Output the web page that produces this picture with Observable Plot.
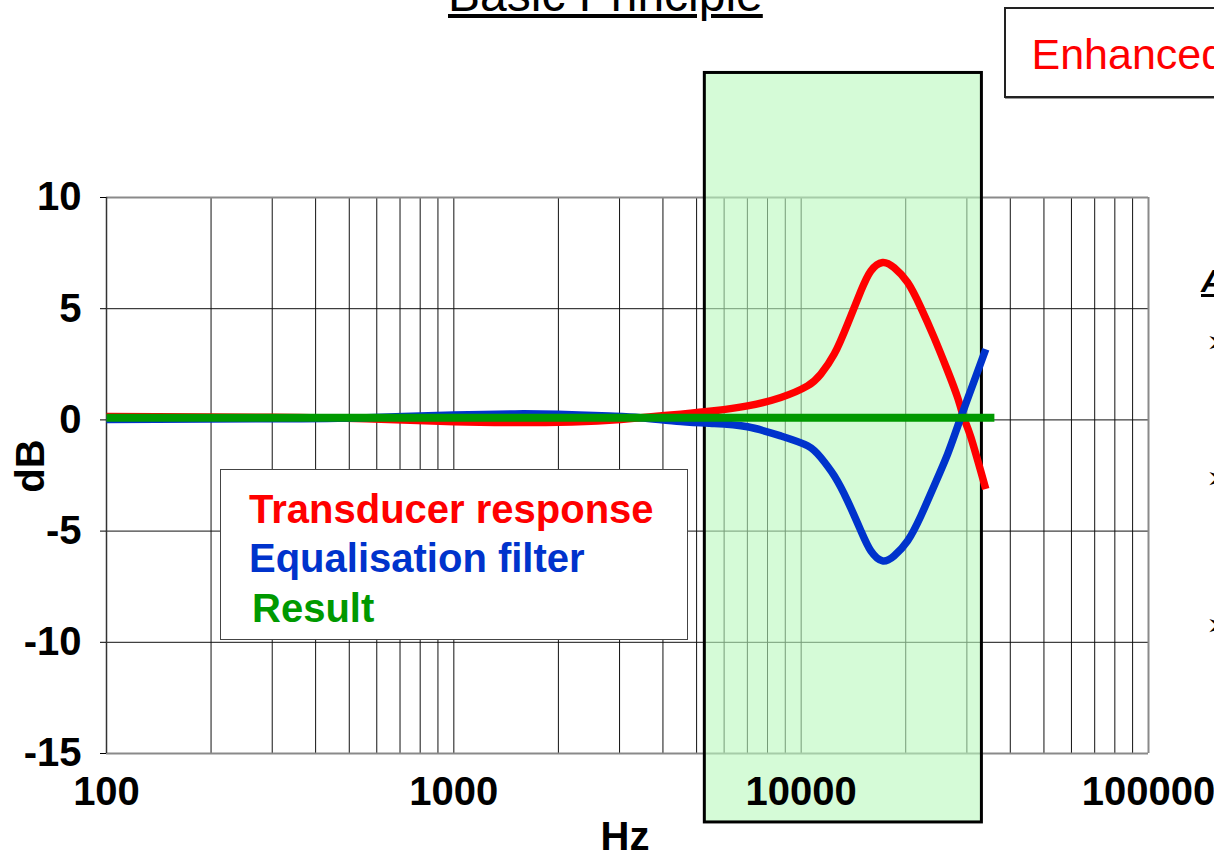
<!DOCTYPE html>
<html>
<head>
<meta charset="utf-8">
<script src="https://cdn.jsdelivr.net/npm/d3@7"></script>
<script src="https://cdn.jsdelivr.net/npm/@observablehq/plot@0.6"></script>
<style>
  html, body { margin: 0; padding: 0; background: #fff; overflow: hidden; }
  #wrap { position: relative; width: 1214px; height: 853px; overflow: hidden; font-family: "Liberation Sans", Arial, sans-serif; }
  #wrap svg { position: absolute; left: 0; top: 0; }
  .abs { position: absolute; white-space: nowrap; line-height: 1; }
</style>
</head>
<body>
<div id="wrap"></div>
<script>
// ---- data ----
const xMajor = [100, 1000, 10000, 100000];
const xMinor = [200, 300, 400, 500, 600, 700, 800, 900,
                2000, 3000, 4000, 5000, 6000, 7000, 8000, 9000,
                20000, 30000, 40000, 50000, 60000, 70000, 80000, 90000];
const yTicks = [-15, -10, -5, 0, 5, 10];

const redHz = [100, 300, 560, 1000, 1500, 2000, 2800, 3450, 4500, 5620, 7010, 8740, 10430, 11390, 12450, 13600, 14860, 15870, 17150, 18520, 20250, 22110, 24150, 26400, 28200, 29470, 30810, 34000];
const redDb = [0.15, 0.12, 0.05, -0.08, -0.12, -0.11, -0.02, 0.1, 0.26, 0.41, 0.63, 1.01, 1.53, 2.06, 2.96, 4.31, 5.8, 6.7, 7.08, 6.85, 6.18, 5.05, 3.7, 2.21, 1.01, 0.04, -0.79, -3.11];

const blueHz = [100, 300, 560, 1000, 1500, 2000, 2800, 3450, 4500, 5620, 7010, 8740, 10430, 11390, 12450, 13600, 14860, 15870, 17150, 18520, 20250, 22110, 24150, 26400, 28500, 31500, 34000];
const blueDb = [0.02, 0.05, 0.1, 0.22, 0.27, 0.25, 0.17, 0.1, -0.07, -0.16, -0.31, -0.72, -1.16, -1.69, -2.51, -3.64, -4.99, -5.89, -6.34, -6.11, -5.44, -4.32, -2.96, -1.54, -0.1, 1.76, 3.18];

const greenHz = [100, 36000];
const greenDb = [0.1, 0.1];

const bandHz = [5280, 33140];   // highlighted frequency band
const bandDb = [-18.1, 15.6];   // vertical extent of the band box

const legendLabels = ["Transducer response", "Equalisation filter", "Result"];
const legendColors = ["#ff0000", "#0033cc", "#009900"];

// ---- chart ----
const chart = Plot.plot({
  width: 1214,
  height: 853,
  marginLeft: 106,
  marginRight: 66,
  marginTop: 197,
  marginBottom: 100,
  style: { fontFamily: "'Liberation Sans', Arial, sans-serif", background: "transparent", overflow: "visible", color: "#000" },
  x: { type: "log", domain: [100, 100000] },
  y: { domain: [-15, 10] },
  marks: [
    Plot.ruleX(xMinor.concat(xMajor), { y1: -15, y2: 10, stroke: "#111", strokeWidth: 1 }),
    Plot.ruleY(yTicks, { x1: 100, x2: 100000, stroke: "#111", strokeWidth: 1 }),
    Plot.ruleY([10, -15], { x1: 100, x2: 100000, stroke: "#8a8a8a", strokeWidth: 2 }),
    Plot.ruleX([100000], { y1: -15, y2: 10, stroke: "#8a8a8a", strokeWidth: 2 }),
    Plot.ruleX([100], { y1: -15, y2: 10, stroke: "#333", strokeWidth: 1.5 }),
    Plot.rect([0], { x1: bandHz[0], x2: bandHz[1], y1: bandDb[0], y2: bandDb[1], fill: "#b9f9bd", fillOpacity: 0.6, stroke: "#000", strokeWidth: 3 }),
    Plot.axisX(xMajor, { tickSize: 0, tickPadding: 23, fontSize: 40, fontWeight: "bold", tickFormat: d => String(d), label: null }),
    Plot.axisY(yTicks, { tickSize: 6, tickPadding: 19, fontSize: 40, fontWeight: "bold", tickFormat: d => String(d), label: null }),
    Plot.line(redHz, { x: redHz, y: redDb, stroke: legendColors[0], strokeWidth: 7.5, curve: "natural", strokeLinecap: "butt" }),
    Plot.line(blueHz, { x: blueHz, y: blueDb, stroke: legendColors[1], strokeWidth: 7.5, curve: "natural", strokeLinecap: "butt" }),
    Plot.line(greenHz, { x: greenHz, y: greenDb, stroke: legendColors[2], strokeWidth: 8, strokeLinecap: "butt" })
  ]
});

const wrap = document.getElementById("wrap");
wrap.appendChild(chart);

function addText(txt, left, baseline, size, opts = {}) {
  const d = document.createElement("div");
  d.className = "abs";
  d.textContent = txt;
  d.style.left = left + "px";
  d.style.top = (baseline - 0.8465 * size) + "px";
  d.style.fontSize = size + "px";
  d.style.fontWeight = opts.bold ? "bold" : "normal";
  d.style.color = opts.color || "#000";
  if (opts.underline) d.style.textDecoration = "underline";
  if (opts.extra) Object.assign(d.style, opts.extra);
  wrap.appendChild(d);
  return d;
}

// title (cut at top of slide)
addText("Basic Principle", 448, 11.7, 48, { underline: true });

// Enhanced box (cut at right)
const eb = document.createElement("div");
eb.className = "abs";
Object.assign(eb.style, { left: "1004px", top: "7px", width: "320px", height: "87px", border: "2px solid #222", boxShadow: "1px 1px 0 #999", background: "#fff" });
wrap.appendChild(eb);
addText("Enhanced", 1031.5, 69.3, 43, { color: "#ff0000" });

// right side text fragments
addText("A", 1201, 292, 32, { bold: true, underline: true, extra: { fontStyle: "italic" } });
addText("➢", 1206, 352, 30, { extra: { fontFamily: "'DejaVu Sans', sans-serif" } });
addText("➢", 1206, 488, 30, { extra: { fontFamily: "'DejaVu Sans', sans-serif" } });
addText("➢", 1206, 635, 30, { extra: { fontFamily: "'DejaVu Sans', sans-serif" } });

// axis labels
addText("Hz", 525, 850, 40, { bold: true, extra: { width: "200px", textAlign: "center" } });
const db = document.createElement("div");
db.className = "abs";
db.textContent = "dB";
Object.assign(db.style, { left: "30px", top: "466px", fontSize: "40px", fontWeight: "bold", transform: "translate(-50%, -50%) rotate(-90deg)" });
wrap.appendChild(db);

// legend box
const lg = document.createElement("div");
lg.className = "abs";
Object.assign(lg.style, { left: "220px", top: "469px", width: "466px", height: "169px", border: "1px solid #444", background: "#fff" });
wrap.appendChild(lg);
const lgX = [249, 249, 252];
const lgBase = [523.3, 571.7, 621.7];
legendLabels.forEach((t, i) => addText(t, lgX[i], lgBase[i], 40, { bold: true, color: legendColors[i] }));
</script>
</body>
</html>
